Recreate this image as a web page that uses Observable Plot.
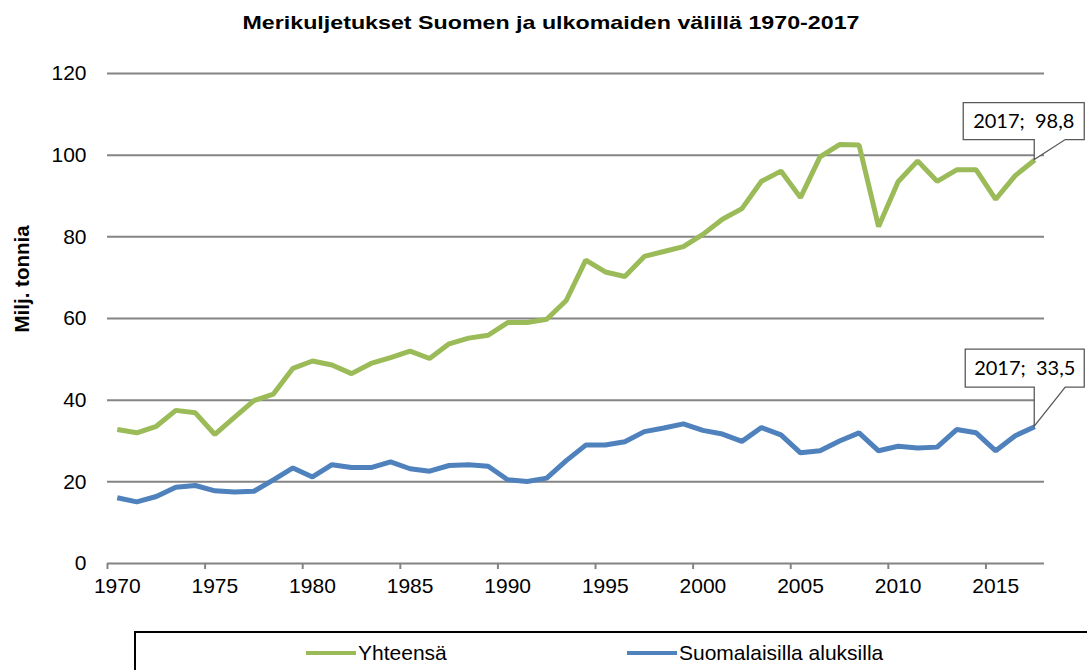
<!DOCTYPE html>
<html><head><meta charset="utf-8">
<script src="https://cdn.jsdelivr.net/npm/d3@7"></script>
<script src="https://cdn.jsdelivr.net/npm/@observablehq/plot@0.6"></script>
<style>
body{margin:0;background:#fff;}
#wrap{position:relative;width:1087px;height:670px;overflow:hidden;font-family:"Liberation Sans",Arial,sans-serif;}
#chart{position:absolute;left:0;top:0;}
#title{position:absolute;top:12px;left:551px;white-space:nowrap;font-weight:bold;font-size:18.5px;color:#000;transform-origin:0 0;}
#legend{position:absolute;left:134px;top:631px;width:1000px;height:60px;border:2px solid #000;box-sizing:border-box;background:#fff;font-size:21px;color:#000;}
.item{position:absolute;top:8px;display:flex;align-items:center;}
.sw{display:inline-block;width:50px;height:4.5px;margin-right:2px;}
</style></head>
<body>
<div id="wrap">
  <div id="chart"></div>
  <div id="title">Merikuljetukset Suomen ja ulkomaiden välillä 1970-2017</div>
  <div id="legend"></div>
</div>
<script>
const years = [1970,1971,1972,1973,1974,1975,1976,1977,1978,1979,1980,1981,1982,1983,1984,1985,1986,1987,1988,1989,1990,1991,1992,1993,1994,1995,1996,1997,1998,1999,2000,2001,2002,2003,2004,2005,2006,2007,2008,2009,2010,2011,2012,2013,2014,2015,2016,2017];
const yhteensa = [32.8,32.0,33.6,37.5,36.9,31.6,35.8,39.9,41.5,47.8,49.6,48.6,46.5,49.0,50.4,52.0,50.2,53.8,55.2,55.9,59.0,59.0,59.8,64.4,74.3,71.4,70.3,75.2,76.4,77.6,80.6,84.3,86.9,93.6,96.1,89.6,99.6,102.6,102.5,82.5,93.5,98.6,93.6,96.4,96.4,89.2,95.0,98.8];
const suomalaisilla = [16.1,15.1,16.4,18.7,19.1,17.8,17.5,17.7,20.5,23.4,21.2,24.2,23.5,23.5,24.9,23.2,22.6,24.0,24.2,23.8,20.5,20.1,20.9,25.2,29.0,29.0,29.8,32.3,33.2,34.2,32.6,31.7,29.9,33.3,31.5,27.1,27.6,30.0,32.0,27.6,28.7,28.3,28.5,32.8,32.0,27.6,31.3,33.5];
const seriesNames = ["Yhteensä","Suomalaisilla aluksilla"];
const seriesColors = ["#9BBB59","#4F81BD"];
const yTicks = [0,20,40,60,80,100,120];
const xTicks = [1970,1975,1980,1985,1990,1995,2000,2005,2010,2015];

const rows = [];
years.forEach((year,i)=>{
  rows.push({year, value:yhteensa[i], series:seriesNames[0]});
  rows.push({year, value:suomalaisilla[i], series:seriesNames[1]});
});
const last = years.length-1;
const annotations = [
  {year:years[last], value:yhteensa[last], box:{l:-71,w:121,t:-57,h:37}},
  {year:years[last], value:suomalaisilla[last], box:{l:-69,w:119,t:-77,h:38}}
];
const fmt = v => String(v).replace(".", ",");

function callouts(index, scales){
  const g = d3.create("svg:g");
  for (const a of annotations){
    const px = scales.x(a.year+0.5), py = scales.y(a.value);
    const L = px + a.box.l, R = L + a.box.w, T = py + a.box.t, B = T + a.box.h;
    g.append("path")
      .attr("d", `M${L},${T}H${R}V${B}H${px+31}L${px},${py}L${px},${B}H${L}Z`)
      .attr("fill","#fff").attr("stroke","#595959").attr("stroke-width",1.3);
    g.append("text")
      .attr("x",(L+R)/2).attr("y",(T+B)/2).attr("dy","0.36em")
      .attr("text-anchor","middle")
      .attr("font-family","Lato, 'Open Sans', sans-serif")
      .attr("font-size",20).attr("fill","#000")
      .text(`${a.year};\u00a0\u00a0${fmt(a.value)}`);
  }
  return g.node();
}

const chart = Plot.plot({
  width:1087, height:670,
  marginTop:73, marginBottom:107, marginLeft:107, marginRight:43,
  x:{domain:[1970,2018], axis:null},
  y:{domain:[0,120], axis:null},
  color:{domain:seriesNames, range:seriesColors},
  style:{fontFamily:"'Liberation Sans', Arial, sans-serif", fontSize:"21px", background:"transparent", overflow:"visible", color:"#000"},
  marks:[
    Plot.ruleY(yTicks, {y:d=>d, stroke:"#848484", strokeWidth:2, strokeOpacity:1}),
    Plot.axisX(xTicks, {tickSize:6, stroke:"#848484", strokeWidth:2, tickFormat:()=>"" }),
    Plot.axisX(xTicks.map(d=>d+0.5), {tickSize:0, tickPadding:15, tickFormat:d=>String(d-0.5), fontSize:21, fill:"#000"}),
    Plot.axisY(yTicks, {tickSize:0, tickPadding:21, fontSize:21, fill:"#000", label:null}),
    Plot.text(["Milj. tonnia"], {frameAnchor:"left", dx:-85, dy:14, rotate:-90, fontWeight:"bold", fontSize:20.5, fill:"#000"}),
    Plot.line(rows, {x:d=>d.year+0.5, y:"value", z:"series", stroke:"series", strokeWidth:5, strokeLinejoin:"miter", strokeLinecap:"butt"}),
    callouts
  ]
});
document.getElementById("chart").appendChild(chart);

// stretch title to the reference's width, centred
const title = document.getElementById("title");
const tw = title.getBoundingClientRect().width;
const targetW = 617;
title.style.transform = `translateX(${-targetW/2}px) scaleX(${targetW/tw})`;

const legend = document.getElementById("legend");
const legendLeft = [170, 491];
seriesNames.forEach((name,i)=>{
  const it = document.createElement("div");
  it.className = "item";
  it.style.left = legendLeft[i] + "px";
  it.innerHTML = `<span class="sw" style="background:${seriesColors[i]}"></span><span>${name}</span>`;
  legend.appendChild(it);
});
</script>
</body></html>
